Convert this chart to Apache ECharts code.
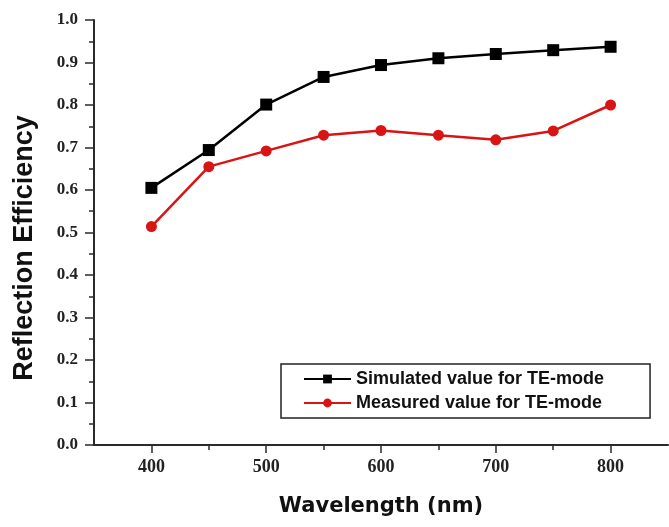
<!DOCTYPE html>
<html>
<head>
<meta charset="utf-8">
<script src="https://cdn.jsdelivr.net/npm/echarts@6/dist/echarts.min.js"></script>
<style>
  html, body { margin: 0; padding: 0; background: #fff; }
  #chart { width: 669px; height: 527px; }
</style>
</head>
<body>
<div id="chart"></div>
<script>
// wavelength (nm) and reflection efficiency
const wavelengths = [400, 450, 500, 550, 600, 650, 700, 750, 800];
const simulated = [0.605, 0.694, 0.801, 0.866, 0.894, 0.910, 0.920, 0.929, 0.937];
const measured = [0.514, 0.655, 0.692, 0.729, 0.740, 0.729, 0.718, 0.739, 0.800];
const majorTicks = [400, 500, 600, 700, 800];
const minorTicks = [450, 550, 650, 750];

const chart = echarts.init(document.getElementById('chart'));

const axisColor = '#2a2a2a';
const tickFont = {
    fontFamily: '"Liberation Serif", "Times New Roman", serif',
    fontWeight: 'bold',
    fontSize: 17,
    color: '#222'
};

chart.setOption({
    animation: false,
    grid: { left: 94, right: 1, top: 20, bottom: 82 },
    // y title sits a bit below the axis centre in the original, so draw it by hand
    graphic: [
        {
            type: 'text',
            x: 25,
            y: 248,
            rotation: Math.PI / 2,
            style: {
                text: 'Reflection Efficiency',
                fontFamily: '"Liberation Sans", Arial, sans-serif',
                fontWeight: 'bold',
                fontSize: 27,
                fill: '#111',
                align: 'center',
                verticalAlign: 'middle'
            }
        }
    ],
    legend: {
        left: 281,
        top: 364,
        orient: 'vertical',
        padding: [6, 46, 6, 22],
        itemGap: 6,
        itemWidth: 47,
        itemHeight: 11,
        borderColor: '#222',
        borderWidth: 1.5,
        textStyle: {
            fontFamily: '"Liberation Sans", Arial, sans-serif',
            fontWeight: 'bold',
            fontSize: 18,
            color: '#111'
        },
        data: ['Simulated value for TE-mode', 'Measured value for TE-mode']
    },
    xAxis: [
        {
            type: 'value',
            min: 350,
            max: 850,
            name: 'Wavelength (nm)',
            nameLocation: 'middle',
            nameGap: 51,
            nameTextStyle: {
                fontFamily: '"DejaVu Sans", Verdana, sans-serif',
                fontWeight: 'bold',
                fontSize: 21,
                color: '#111'
            },
            axisLine: { show: true, lineStyle: { color: axisColor, width: 2 } },
            axisTick: { show: true, customValues: majorTicks, length: 8, lineStyle: { color: axisColor, width: 1.5 } },
            axisLabel: Object.assign({ customValues: majorTicks, margin: 13 }, tickFont, { fontSize: 18 }),
            splitLine: { show: false }
        },
        {
            type: 'value',
            min: 350,
            max: 850,
            position: 'bottom',
            axisLine: { show: false },
            axisTick: { show: true, customValues: minorTicks, length: 5, lineStyle: { color: axisColor, width: 1.5 } },
            axisLabel: { show: false },
            splitLine: { show: false }
        }
    ],
    yAxis: {
        type: 'value',
        min: 0,
        max: 1,
        interval: 0.1,
        axisLine: { show: true, lineStyle: { color: axisColor, width: 2 } },
        axisTick: { show: true, length: 9, lineStyle: { color: axisColor, width: 1.5 } },
        minorTick: { show: true, splitNumber: 2, length: 5, lineStyle: { color: axisColor, width: 1.5 } },
        axisLabel: Object.assign({ margin: 16, formatter: v => v.toFixed(1) }, tickFont),
        splitLine: { show: false }
    },
    series: [
        {
            name: 'Simulated value for TE-mode',
            type: 'line',
            xAxisIndex: 0,
            data: wavelengths.map((w, i) => [w, simulated[i]]),
            symbol: 'rect',
            symbolSize: 12,
            lineStyle: { color: '#000', width: 2.5 },
            itemStyle: { color: '#000' }
        },
        {
            name: 'Measured value for TE-mode',
            type: 'line',
            xAxisIndex: 0,
            data: wavelengths.map((w, i) => [w, measured[i]]),
            symbol: 'circle',
            symbolSize: 11,
            lineStyle: { color: '#d81414', width: 2.5 },
            itemStyle: { color: '#d81414' }
        }
    ]
});
</script>
</body>
</html>
